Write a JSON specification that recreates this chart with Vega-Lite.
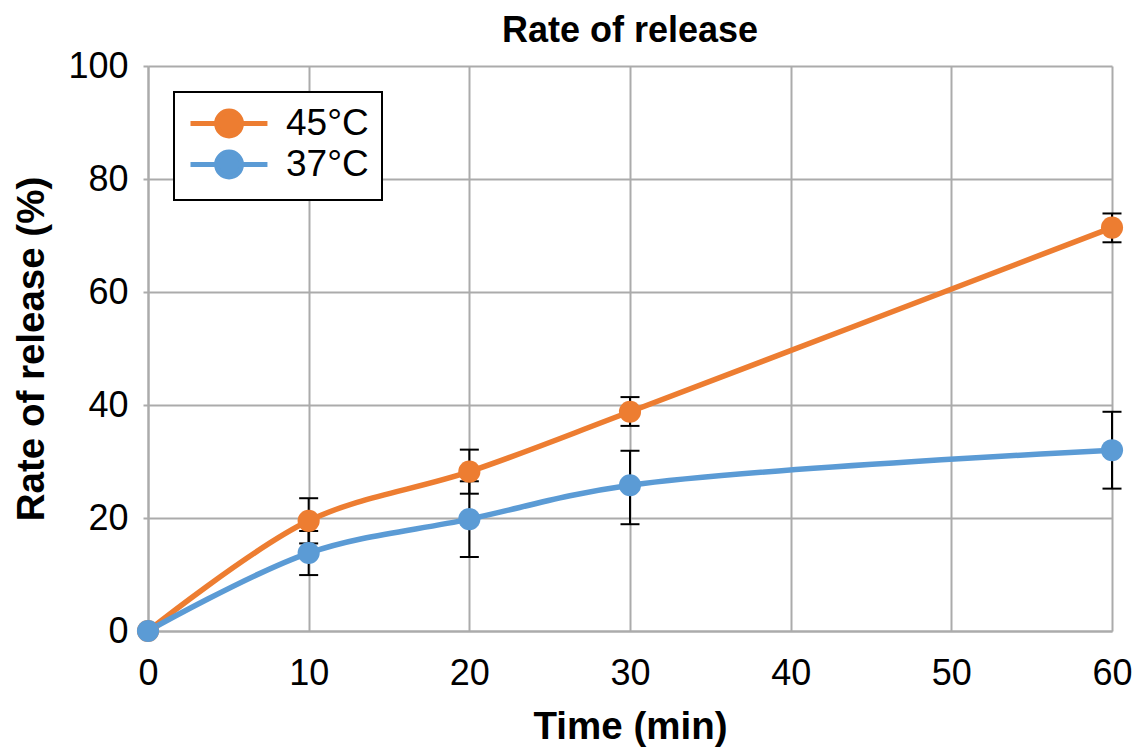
{
  "$schema": "https://vega.github.io/schema/vega-lite/v6.json",
  "width": 964,
  "height": 565,
  "autosize": "none",
  "padding": {"left": 148, "top": 66, "right": 26, "bottom": 116},
  "background": "white",
  "config": {
    "view": {"stroke": null},
    "font": "Liberation Sans",
    "axis": {
      "gridColor": "#ABABAB",
      "gridWidth": 2,
      "domainColor": "#ABABAB",
      "domainWidth": 2,
      "labelFont": "Liberation Sans",
      "labelFontSize": 36,
      "labelColor": "black",
      "titleFont": "Liberation Sans",
      "titleFontSize": 38.5,
      "titleFontWeight": "bold",
      "titleColor": "black"
    }
  },
  "title": {
    "text": "Rate of release",
    "font": "Liberation Sans",
    "fontSize": 36,
    "fontWeight": "bold",
    "color": "black",
    "anchor": "middle",
    "baseline": "top",
    "offset": -2
  },
  "data": {
    "values": [
      {"t": 0, "temp": "45°C", "mean": 0, "low": null, "high": null},
      {"t": 10, "temp": "45°C", "mean": 19.5, "low": 15.5, "high": 23.5},
      {"t": 20, "temp": "45°C", "mean": 28.2, "low": 24.3, "high": 32.1},
      {"t": 30, "temp": "45°C", "mean": 38.8, "low": 36.3, "high": 41.4},
      {"t": 60, "temp": "45°C", "mean": 71.4, "low": 68.8, "high": 73.9},
      {"t": 0, "temp": "37°C", "mean": 0, "low": null, "high": null},
      {"t": 10, "temp": "37°C", "mean": 13.8, "low": 9.9, "high": 17.7},
      {"t": 20, "temp": "37°C", "mean": 19.8, "low": 13.1, "high": 26.5},
      {"t": 30, "temp": "37°C", "mean": 25.8, "low": 18.9, "high": 31.9},
      {"t": 60, "temp": "37°C", "mean": 32.0, "low": 25.2, "high": 38.8}
    ]
  },
  "encoding": {
    "x": {
      "field": "t",
      "type": "quantitative",
      "scale": {"domain": [0, 60], "nice": false},
      "axis": {
        "title": "Time (min)",
        "values": [0, 10, 20, 30, 40, 50, 60],
        "ticks": false,
        "tickSize": 0,
        "labelPadding": 25,
        "titlePadding": 17,
        "labelFlush": false
      }
    }
  },
  "layer": [
    {
      "transform": [{"filter": "datum.low != null"}],
      "mark": {"type": "rule", "color": "black", "strokeWidth": 2},
      "encoding": {
        "y": {
          "field": "low",
          "type": "quantitative",
          "scale": {"domain": [0, 100], "nice": false},
          "title": "Rate of release (%)"
        },
        "y2": {"field": "high"}
      }
    },
    {
      "transform": [{"filter": "datum.low != null"}],
      "mark": {"type": "tick", "color": "black", "orient": "horizontal", "size": 19, "thickness": 2, "opacity": 1},
      "encoding": {
        "y": {
          "field": "low",
          "type": "quantitative",
          "scale": {"domain": [0, 100], "nice": false},
          "title": "Rate of release (%)"
        }
      }
    },
    {
      "transform": [{"filter": "datum.low != null"}],
      "mark": {"type": "tick", "color": "black", "orient": "horizontal", "size": 19, "thickness": 2, "opacity": 1},
      "encoding": {
        "y": {
          "field": "high",
          "type": "quantitative",
          "scale": {"domain": [0, 100], "nice": false},
          "title": "Rate of release (%)"
        }
      }
    },
    {
      "mark": {"type": "line", "interpolate": "catmull-rom", "strokeWidth": 5.5},
      "encoding": {
        "y": {
          "field": "mean",
          "type": "quantitative",
          "scale": {"domain": [0, 100], "nice": false},
          "axis": {
            "title": "Rate of release (%)",
            "values": [0, 20, 40, 60, 80, 100],
            "tickSize": 5,
            "tickWidth": 2,
            "tickColor": "#ABABAB",
            "labelPadding": 15,
            "titlePadding": 16,
            "labelFlush": false
          }
        },
        "color": {
          "field": "temp",
          "type": "nominal",
          "scale": {"domain": ["45°C", "37°C"], "range": ["#ED7D31", "#5B9BD5"]},
          "legend": {
            "orient": "none",
            "legendX": 26,
            "legendY": 26,
            "title": null,
            "labelFont": "Liberation Sans",
            "labelFontSize": 37,
            "labelColor": "black",
            "strokeColor": "black",
            "fillColor": "white",
            "padding": 13,
            "rowPadding": -11,
            "symbolType": "M-1,0L4.13,0M0.74,0C0.74,-0.4584,1.1116,-0.83,1.57,-0.83C2.0284,-0.83,2.4,-0.4584,2.4,0C2.4,0.4584,2.0284,0.83,1.57,0.83C1.1116,0.83,0.74,0.4584,0.74,0Z",
            "symbolSize": 900,
            "symbolStrokeWidth": 5,
            "labelOffset": 62,
            "encode": {
              "symbols": {
                "update": {
                  "fill": {"scale": "color", "field": "value"},
                  "stroke": {"scale": "color", "field": "value"},
                  "opacity": {"value": 1}
                }
              },
              "legend": {
                "update": {
                  "strokeWidth": {"value": 2}
                }
              }
            }
          }
        }
      }
    },
    {
      "mark": {"type": "point", "filled": true, "size": 490, "opacity": 1},
      "encoding": {
        "y": {
          "field": "mean",
          "type": "quantitative",
          "scale": {"domain": [0, 100], "nice": false},
          "title": "Rate of release (%)"
        },
        "color": {
          "field": "temp",
          "type": "nominal",
          "scale": {"domain": ["45°C", "37°C"], "range": ["#ED7D31", "#5B9BD5"]}
        }
      }
    }
  ]
}
